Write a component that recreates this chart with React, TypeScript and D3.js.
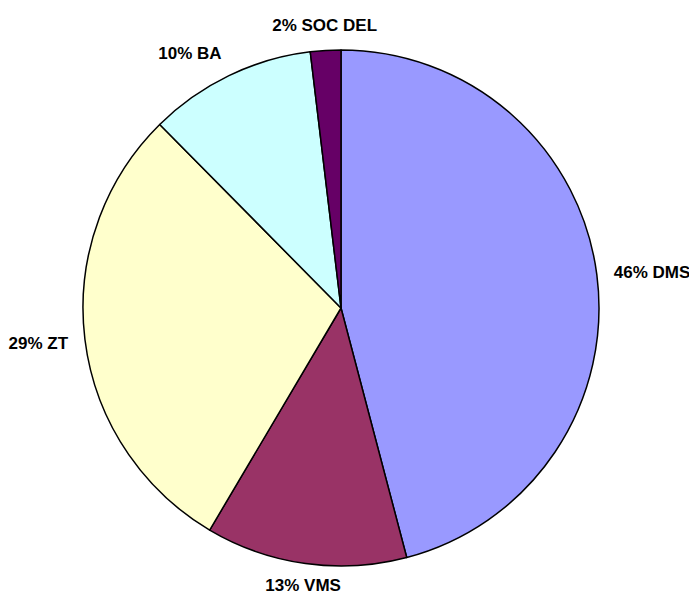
import * as d3 from "d3";

const categories = ["DMS", "VMS", "ZT", "BA", "SOC DEL"];
// slice sizes; labels show the rounded shares
const values = [45.9, 12.6, 29.1, 10.5, 1.9];
const shareLabels = ["46%", "13%", "29%", "10%", "2%"];
const colors = ["#9999FF", "#993366", "#FFFFCC", "#CCFFFF", "#660066"];

const width = 689;
const height = 594;
const cx = 341;
const cy = 308;
const radius = 258;
const labelRadius = 275;
const fontSize = 17;

export default function App() {
  const data = categories.map((c, i) => ({
    name: c,
    value: values[i],
    label: shareLabels[i],
    color: colors[i],
  }));
  const pieGen = d3.pie<any>().value(d => d.value).sort(null);
  const arcGen = d3.arc<any>().innerRadius(0).outerRadius(radius);
  const slices = pieGen(data);

  return (
    <svg width={width} height={height} style={{ position: "absolute", left: 0, top: 0 }}>
      <rect width={width} height={height} fill="#ffffff" />
      <g transform={`translate(${cx}, ${cy})`}>
        {slices.map(d => (
          <path
            key={d.data.name}
            d={arcGen(d) as string}
            fill={d.data.color}
            stroke="#000"
            strokeWidth={1.5}
            strokeLinejoin="round"
          />
        ))}
        {slices.map(d => {
          const mid = (d.startAngle + d.endAngle) / 2;
          const s = Math.sin(mid);
          const c = Math.cos(mid);
          const x = s * labelRadius;
          let y = -c * labelRadius - c * fontSize * 0.5 + fontSize * 0.36;
          // keep the bottom label inside the picture
          y = Math.min(y, height - cy - 3);
          const anchor = s > 0.3 ? "start" : s < -0.3 ? "end" : "middle";
          return (
            <text
              key={"l" + d.data.name}
              x={x}
              y={y}
              textAnchor={anchor}
              fontFamily="'Liberation Sans', Arial, sans-serif"
              fontWeight="bold"
              fontSize={fontSize}
              fill="#000"
            >
              {`${d.data.label} ${d.data.name}`}
            </text>
          );
        })}
      </g>
    </svg>
  );
}
